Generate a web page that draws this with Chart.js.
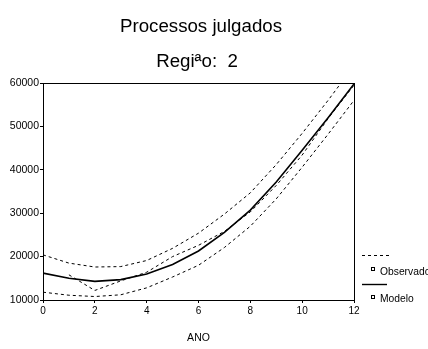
<!DOCTYPE html>
<html>
<head>
<meta charset="utf-8">
<script src="https://cdn.jsdelivr.net/npm/chart.js@4/dist/chart.umd.min.js"></script>
<style>
  html,body{margin:0;padding:0;background:#fff}
  #wrap{width:428px;height:349px}
</style>
</head>
<body>
<div id="wrap"><canvas id="c" width="428" height="349"></canvas></div>
<script>
/* ── DATA ────────────────────────────────────────────────── */
const anos      = [0,1,2,3,4,5,6,7,8,9,10,11,12];
const observado = [null,15800,12200,14400,16400,20000,22600,25800,30300,36400,43400,51800,59500];
const modelo    = [16200,15000,14300,14700,16000,18200,21300,25600,30700,37200,44500,52000,59800];
const limSup    = [20400,18500,17600,17700,19100,21900,25400,29800,34700,41200,48400,56000,64000];
const limInf    = [11800,11100,10800,11200,12800,15300,18000,22100,27000,33300,40600,48200,56000];
const yTicks    = [10000,20000,30000,40000,50000,60000];

const toXY = arr => anos.map((a,i)=>({x:a, y:arr[i]}));
const FONT = '"Liberation Sans", Arial, sans-serif';

/* ── TITLES + FRAME + LEGEND ─────────────────────────────── */
const decor = {
  id:'decor',
  afterDraw(chart){
    const c = chart.ctx, a = chart.chartArea;
    c.save();
    c.strokeStyle='#000'; c.lineWidth=1;
    c.strokeRect(Math.round(a.left)+0.5, Math.round(a.top)+0.5, Math.round(a.right-a.left), Math.round(a.bottom-a.top));
    c.fillStyle='#000'; c.textAlign='center'; c.textBaseline='alphabetic';
    c.font='18.7px '+FONT;
    c.fillText('Processos julgados', 201, 32);
    c.fillText('Regiªo:  2', 197, 67);
    // legenda
    c.lineWidth=1;
    c.setLineDash([3,3]);
    c.beginPath(); c.moveTo(362,255.5); c.lineTo(391,255.5); c.stroke();
    c.setLineDash([]);
    c.lineWidth=1.4;
    c.beginPath(); c.moveTo(362,284.5); c.lineTo(387,284.5); c.stroke();
    c.lineWidth=1;
    c.strokeRect(371.5,267.5,3,3);
    c.strokeRect(371.5,295.5,3,3);
    c.textAlign='left';
    c.font='10.3px '+FONT;
    c.fillText('Observado', 380, 275);
    c.fillText('Modelo', 380, 302);
    c.restore();
  }
};

const dash = {borderColor:'#000', borderWidth:1, borderDash:[3,3], pointRadius:0, fill:false, tension:0};

new Chart(document.getElementById('c'),{
  type:'line',
  data:{
    datasets:[
      { label:'Limite superior', data:toXY(limSup), ...dash },
      { label:'Limite inferior', data:toXY(limInf), ...dash },
      { label:'Observado', data:toXY(observado), ...dash },
      { label:'Modelo', data:toXY(modelo), borderColor:'#000', borderWidth:1.6, pointRadius:0, fill:false, tension:0 }
    ]
  },
  plugins:[decor],
  options:{
    responsive:false, animation:false,
    layout:{padding:{left:0,right:74,top:83,bottom:0}},
    plugins:{legend:{display:false}, tooltip:{enabled:false}, title:{display:false}},
    scales:{
      x:{
        type:'linear', min:0, max:12,
        afterFit(s){ s.height = 49; },
        border:{color:'#000', width:1},
        grid:{drawOnChartArea:false, tickLength:3, color:'#000'},
        ticks:{stepSize:2, padding:2, color:'#000', font:{family:FONT, size:10}, callback:v=>String(v)},
        title:{display:true, text:'ANO', color:'#000', padding:{top:0,bottom:5}, font:{family:FONT, size:10.5}}
      },
      y:{
        min:10000, max:60000,
        afterFit(s){ s.width = 43; },
        afterBuildTicks(s){ s.ticks = yTicks.map(v=>({value:v})); },
        border:{color:'#000', width:1},
        grid:{drawOnChartArea:false, tickLength:3, color:'#000'},
        ticks:{padding:1, color:'#000', font:{family:FONT, size:10.5}, callback:v=>String(v)}
      }
    }
  }
});
</script>
</body>
</html>
